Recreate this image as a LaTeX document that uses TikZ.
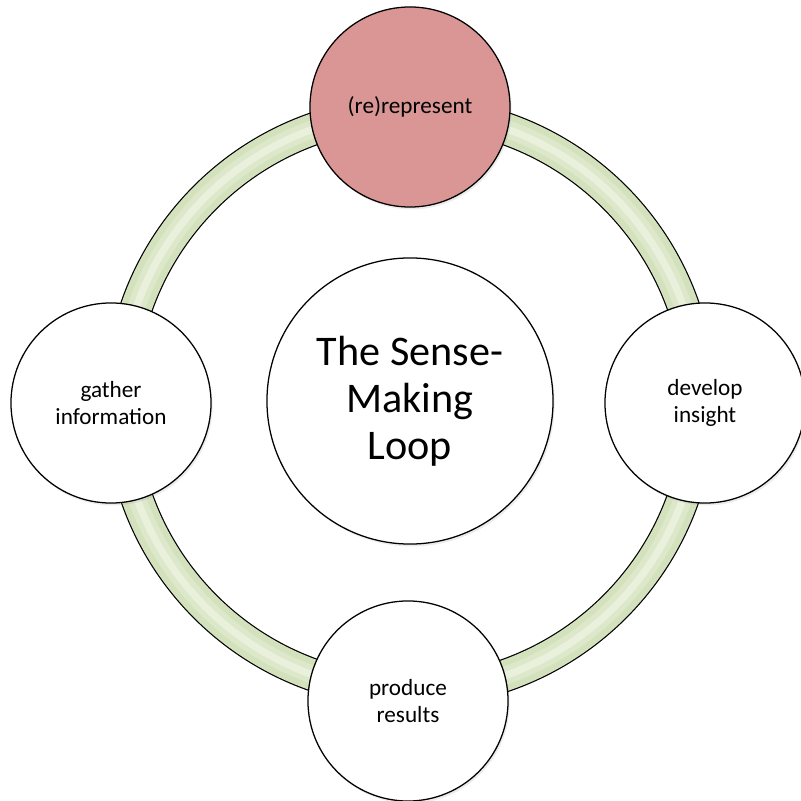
\documentclass[tikz,border=0pt]{standalone}
\usepackage{fontspec}
\setmainfont{Carlito}
\usepackage{tikz}
\usetikzlibrary{shadows}

\definecolor{loopgreen}{HTML}{D3E1BC}
\definecolor{loopmid}{HTML}{DDE8CA}
\definecolor{looplight}{HTML}{E9F0DC}
\definecolor{steprose}{HTML}{D99694}

\begin{document}
\begin{tikzpicture}[x=0.025cm,y=0.025cm,
    stage/.style={circle,draw=black,line width=0.9pt,fill=white,minimum size=5cm,inner sep=0pt,align=center,
        font=\fontsize{16.5}{19.5}\selectfont,
        drop shadow={opacity=0.15,shadow xshift=0.4mm,shadow yshift=-0.6mm}},
    hub/.style={stage,minimum size=7.15cm,font=\fontsize{30}{33.5}\selectfont}]
    \useasboundingbox (-410,-399) rectangle (391,402);

    % the loop
    \draw[line width=0.83cm,black] (0,0) circle (289.5);
    \draw[line width=0.77cm,loopgreen] (0,0) circle (289.5);
    \draw[line width=0.45cm,loopmid] (0,0) circle (289.5);
    \draw[line width=0.18cm,looplight] (0,0) circle (289.5);

    % the four steps
    \node[stage,fill=steprose] (repr) at (0,295) {(re)represent};
    \node[stage] (insight) at (295,-1) {develop\\insight};
    \node[stage] (results) at (-2,-299) {produce\\results};
    \node[stage] (gather) at (-299,-1) {gather\\information};

    \node[hub] (loop) at (0,1) {The Sense-\\Making\\Loop};
\end{tikzpicture}
\end{document}
